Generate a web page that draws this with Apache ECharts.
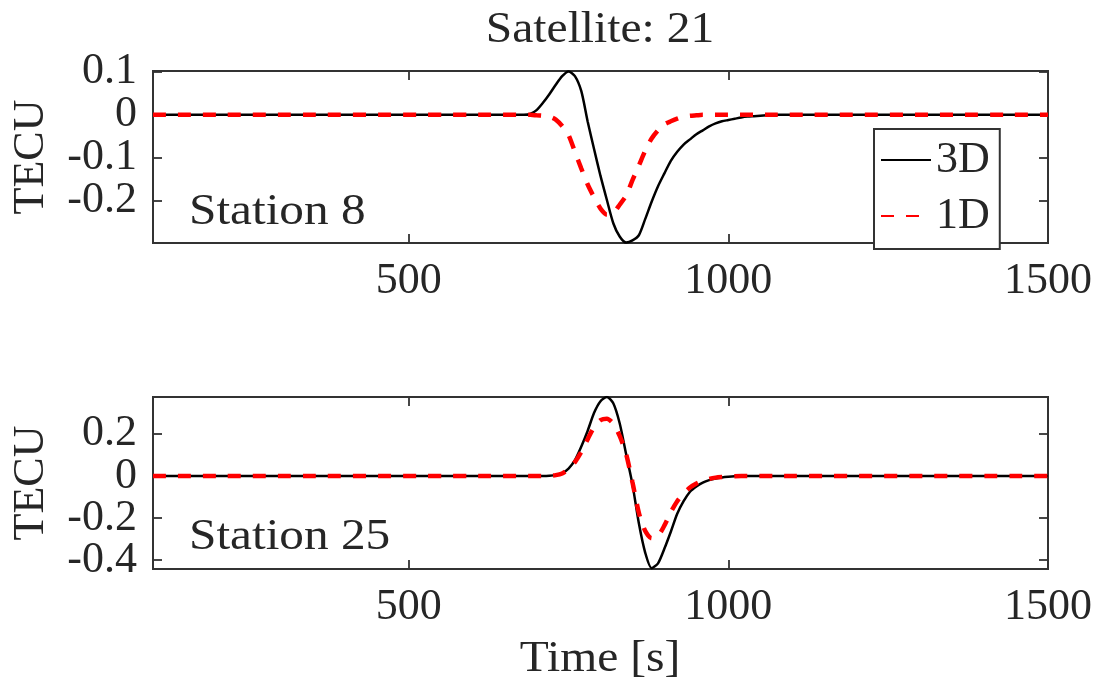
<!DOCTYPE html>
<html>
<head>
<meta charset="utf-8">
<script src="https://cdn.jsdelivr.net/npm/echarts@6/dist/echarts.min.js"></script>
<style>
  html, body { margin: 0; padding: 0; background: #fff; }
  #chart { width: 1097px; height: 685px; }
</style>
</head>
<body>
<div id="chart"></div>
<script>
// ---- data ----
const time = [100, 680, 690, 700, 710, 720, 730, 740, 750, 760, 770, 780, 790, 800, 810, 820, 830, 840, 850, 860, 870,
  880, 890, 900, 910, 920, 930, 940, 950, 960, 970, 980, 990, 1000, 1010, 1020, 1030, 1040, 1050, 1060, 1070, 1500];

// Station 8
const st8_3D = [0, 0, 0.002, 0.011, 0.028, 0.048, 0.070, 0.090, 0.101, 0.090, 0.055, -0.016, -0.080, -0.142, -0.198,
  -0.252, -0.283, -0.297, -0.292, -0.280, -0.242, -0.202, -0.166, -0.136, -0.107, -0.086, -0.069, -0.057, -0.045,
  -0.036, -0.027, -0.020, -0.015, -0.012, -0.009, -0.006, -0.004, -0.003, -0.002, -0.001, 0, 0];
const st8_1D = [0, 0, 0, -0.001, -0.002, -0.004, -0.011, -0.026, -0.047, -0.086, -0.125, -0.162, -0.192, -0.218, -0.232,
  -0.228, -0.209, -0.188, -0.152, -0.118, -0.083, -0.055, -0.036, -0.022, -0.015, -0.009, -0.004, -0.002, -0.001,
  0, 0, 0, 0, 0, 0, 0, 0, 0, 0, 0, 0, 0];

// Station 25
const st25_3D = [0, 0, 0, 0, 0, 0.001, 0.004, 0.013, 0.035, 0.075, 0.140, 0.215, 0.300, 0.355, 0.375, 0.345, 0.250,
  0.105, -0.040, -0.225, -0.365, -0.438, -0.415, -0.345, -0.265, -0.180, -0.120, -0.075, -0.050, -0.032, -0.020,
  -0.012, -0.007, -0.004, -0.002, -0.001, 0, 0, 0, 0, 0, 0];
const st25_1D = [0, 0, 0, 0, 0, 0.001, 0.004, 0.012, 0.032, 0.066, 0.115, 0.175, 0.232, 0.265, 0.272, 0.248, 0.190,
  0.105, -0.030, -0.175, -0.262, -0.296, -0.285, -0.235, -0.172, -0.120, -0.083, -0.055, -0.036, -0.023, -0.014,
  -0.008, -0.005, -0.003, -0.001, 0, 0, 0, 0, 0, 0, 0];

const seriesNames = ['3D', '1D'];
const xTicks = [500, 1000, 1500];
const yTicksTop = [-0.2, -0.1, 0, 0.1];
const yTicksBottom = [-0.4, -0.2, 0, 0.2];
const titleText = 'Satellite: 21';
const xName = 'Time [s]';
const yName = 'TECU';
const stationLabels = ['Station 8', 'Station 25'];

// ---- styling ----
const FONT = 'Liberation Serif';
const FS = 44;
const TXT = '#262626';
const FRAME = '#333333';

const chart = echarts.init(document.getElementById('chart'), null, { renderer: 'canvas' });

const grids = [
  { left: 153, top: 71, width: 895, height: 172 },
  { left: 153, top: 397, width: 895, height: 172 }
];
const yRanges = [[-0.298, 0.102], [-0.442, 0.375]];
const yTicks = [yTicksTop, yTicksBottom];

const tickStyle = { color: FRAME, width: 1.8 };
const fmt = v => String(Math.round(v * 1000) / 1000);

const xAxes = [], yAxes = [];
grids.forEach((g, gi) => {
  const yr = yRanges[gi];
  const ticks = yTicks[gi];
  // labels are split over two coincident left axes so the tall serif labels are not culled as overlapping
  const labelsA = ticks.filter((v, i) => i % 2 === 0);
  const labelsB = ticks.filter((v, i) => i % 2 === 1);
  const labelStyle = { margin: 16, fontFamily: FONT, fontSize: FS, color: TXT, formatter: fmt,
    hideOverlap: false, showMinLabel: true, showMaxLabel: true };
  xAxes.push({
    gridIndex: gi, type: 'value', min: 100, max: 1500, position: 'bottom',
    axisLine: { show: false, onZero: false }, splitLine: { show: false },
    axisTick: { show: true, inside: true, length: 9, customValues: xTicks, lineStyle: tickStyle },
    axisLabel: Object.assign({ customValues: xTicks }, labelStyle)
  });
  xAxes.push({
    gridIndex: gi, type: 'value', min: 100, max: 1500, position: 'top',
    axisLine: { show: false, onZero: false }, splitLine: { show: false },
    axisTick: { show: true, inside: true, length: 9, customValues: xTicks, lineStyle: tickStyle },
    axisLabel: { show: false }
  });
  yAxes.push({
    gridIndex: gi, type: 'value', min: yr[0], max: yr[1], position: 'left', offset: 0,
    axisLine: { show: false, onZero: false }, splitLine: { show: false },
    axisTick: { show: true, inside: true, length: 9, customValues: ticks, lineStyle: tickStyle },
    axisLabel: Object.assign({ customValues: labelsA }, labelStyle)
  });
  yAxes.push({
    gridIndex: gi, type: 'value', min: yr[0], max: yr[1], position: 'right',
    axisLine: { show: false, onZero: false }, splitLine: { show: false },
    axisTick: { show: true, inside: true, length: 9, customValues: ticks, lineStyle: tickStyle },
    axisLabel: { show: false }
  });
  yAxes.push({
    gridIndex: gi, type: 'value', min: yr[0], max: yr[1], position: 'left', offset: 0,
    axisLine: { show: false, onZero: false }, splitLine: { show: false },
    axisTick: { show: false },
    axisLabel: Object.assign({ customValues: labelsB }, labelStyle)
  });
});

function pairs(vals) { return time.map((t, i) => [t, vals[i]]); }

const solid = { color: '#000000', width: 2.5, type: 'solid' };
const dashed = { color: '#ff0000', width: 4.5, type: [13, 12] };
const common = { type: 'line', symbol: 'none', smooth: 0.25 };

const series = [
  Object.assign({ name: seriesNames[0], xAxisIndex: 0, yAxisIndex: 0, data: pairs(st8_3D), lineStyle: solid, itemStyle: { color: '#000' }, z: 2 }, common),
  Object.assign({ name: seriesNames[1], xAxisIndex: 0, yAxisIndex: 0, data: pairs(st8_1D), lineStyle: dashed, itemStyle: { color: '#ff0000' }, z: 3 }, common),
  Object.assign({ name: seriesNames[0], xAxisIndex: 2, yAxisIndex: 3, data: pairs(st25_3D), lineStyle: solid, itemStyle: { color: '#000' }, z: 2 }, common),
  Object.assign({ name: seriesNames[1], xAxisIndex: 2, yAxisIndex: 3, data: pairs(st25_1D), lineStyle: dashed, itemStyle: { color: '#ff0000' }, z: 3 }, common)
];

function txt(text, x, y, extra) {
  return Object.assign({
    type: 'text', x: x, y: y, silent: true, z: 10,
    style: { text: text, font: FS + 'px "' + FONT + '"', fill: TXT, textAlign: 'center', textVerticalAlign: 'middle' }
  }, extra || {});
}

const option = {
  animation: false,
  backgroundColor: '#ffffff',
  grid: grids.map(g => Object.assign({ show: true, borderColor: FRAME, borderWidth: 2, backgroundColor: 'transparent', containLabel: false }, g)),
  xAxis: xAxes,
  yAxis: yAxes,
  legend: {
    data: seriesNames,
    orient: 'vertical',
    left: 874, top: 129,
    padding: [9, 10, 11, 6],
    itemGap: 12,
    itemWidth: 50,
    itemHeight: 20,
    itemStyle: { opacity: 0 },
    borderColor: FRAME,
    borderWidth: 2,
    backgroundColor: '#ffffff',
    textStyle: { fontFamily: FONT, fontSize: FS, color: TXT },
    z: 20
  },
  series: series,
  graphic: [
    txt(titleText, 600, 30, { scaleX: 1.08 }),
    txt(xName, 600, 659, { scaleX: 1.08 }),
    txt(yName, 31, 157, { rotation: Math.PI / 2 }),
    txt(yName, 31, 483, { rotation: Math.PI / 2 }),
    {
      type: 'text', x: 189, y: 212, silent: true, z: 10, scaleX: 1.12,
      style: { text: stationLabels[0], font: FS + 'px "' + FONT + '"', fill: TXT, textAlign: 'left', textVerticalAlign: 'middle' }
    },
    {
      type: 'text', x: 189, y: 537, silent: true, z: 10, scaleX: 1.12,
      style: { text: stationLabels[1], font: FS + 'px "' + FONT + '"', fill: TXT, textAlign: 'left', textVerticalAlign: 'middle' }
    }
  ]
};

chart.setOption(option);
</script>
</body>
</html>
